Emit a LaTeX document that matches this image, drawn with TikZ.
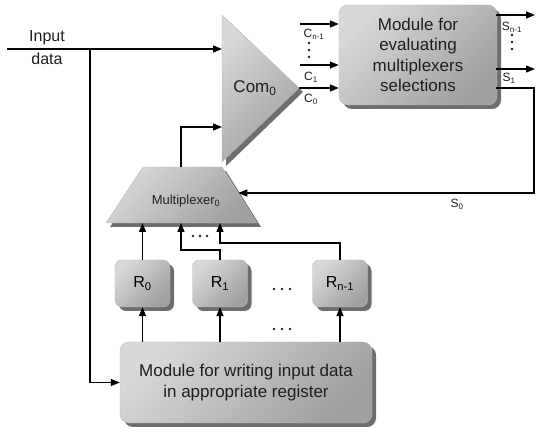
\documentclass[tikz,border=0pt]{standalone}
\usepackage{fontspec}
\setmainfont{Liberation Sans}
\usetikzlibrary{arrows.meta,shadows}
\definecolor{shlight}{HTML}{D8D8D8}
\definecolor{shdark}{HTML}{A0A0A0}
\definecolor{shadowc}{HTML}{6E6E6E}
\definecolor{txt}{HTML}{1E1E1E}
\tikzset{
  arr/.style={line width=1.3pt, -{Triangle[length=9pt,width=7pt]}},
  ln/.style={line width=1.3pt},
  shd/.style={top color=shlight, bottom color=shdark, shading angle=45},
  blk/.style={shd, rounded corners=9pt, draw=gray!55, line width=0.4pt, inner sep=0pt,
    drop shadow={shadow xshift=4pt, shadow yshift=-4pt, fill=shadowc, opacity=1}},
  reg/.style={blk, rounded corners=7pt, minimum width=55pt, minimum height=47pt,
    font=\fontsize{16}{18}\selectfont},
  bigtxt/.style={align=center, font=\fontsize{17}{20.5}\selectfont, text=txt},
  lbl/.style={font=\fontsize{12}{14}\selectfont, text=txt, inner sep=0pt},
  dot/.style={fill=txt, draw=none},
}
\begin{document}
\begin{tikzpicture}[x=1pt,y=-1pt]
\useasboundingbox (0,0) rectangle (536,427);
% ---- Com0 triangle
\coordinate (comTL) at (222,15);
\coordinate (comTip) at (299,88);
\coordinate (comBL) at (222,162);
\fill[shadowc] (226,19) -- (303,92) -- (226,166) -- cycle;
\shade[shd, draw=gray!55, line width=0.4pt] (comTL) -- (comTip) -- (comBL) -- cycle;
\node[bigtxt] (com) at (255,88) {Com\textsubscript{0}};
% ---- Multiplexer trapezoid
\coordinate (muxTL) at (143,167);
\coordinate (muxTR) at (222,167);
\coordinate (muxBR) at (257,223);
\coordinate (muxBL) at (106,223);
\coordinate (muxT) at (181,167);
\coordinate (muxR) at (238.3,193);
\fill[shadowc] (147,171) -- (226,171) -- (261,227) -- (110,227) -- cycle;
\shade[shd, draw=gray!55, line width=0.4pt] (muxTL) -- (muxTR) -- (muxBR) -- (muxBL) -- cycle;
\node[font=\fontsize{13}{15}\selectfont, text=txt] (muxlbl) at (186,201) {Multiplexer\textsubscript{0}};
% ---- Evaluation module
\node[blk, bigtxt, minimum width=158pt, minimum height=100pt] (ev) at (418,55)
  {Module for\\evaluating\\multiplexers\\selections};
% ---- Registers
\node[reg] (r0) at (142.5,283.5) {R\textsubscript{0}};
\node[reg] (r1) at (220,283.5) {R\textsubscript{1}};
\node[reg] (rn) at (340,283.5) {R\textsubscript{n-1}};
% ---- Writing module
\node[blk, bigtxt, minimum width=252pt, minimum height=81pt] (wm) at (246,382.5)
  {Module for writing input data\\in appropriate register};
% ---- Input
\coordinate (inS) at (7,49);
\coordinate (br) at (90,49);
\draw[arr] (inS) -- (inS -| comTL);
\node[bigtxt, font=\fontsize{16}{18}\selectfont] (inl1) at (47,38) {Input};
\node[bigtxt, font=\fontsize{16}{18}\selectfont] (inl2) at (47,59) {data};
\draw[arr] (br) |- (wm.west);
% ---- Mux to Com
\coordinate (mc) at (181,127);
\draw[arr] (muxT) -- (mc) -- (mc -| comTL);
% ---- C inputs
\coordinate (cn) at (300,24);
\coordinate (c1) at (300,65);
\draw[arr] (cn) -- (cn -| ev.west);
\draw[arr] (c1) -- (c1 -| ev.west);
\draw[arr] (comTip) -- (comTip -| ev.west);
\node[lbl] (lcn) at (314,34) {C\textsubscript{n-1}};
\node[lbl] (lc1) at (311,77) {C\textsubscript{1}};
\node[lbl] (lc0) at (311,99) {C\textsubscript{0}};
\foreach \yy in {43,50,57} \fill[dot] (309,\yy) circle (1.3);
% ---- S outputs
\coordinate (sn) at (496,15);
\coordinate (s1) at (496,69);
\coordinate (s0) at (496,88);
\coordinate (sc1) at (534,88);
\coordinate (sc2) at (534,193);
\draw[arr] (sn) -- (535,15);
\draw[arr] (s1) -- (535,69);
\draw[arr] (s0) -- (sc1) -- (sc2) -- (muxR);
\node[lbl] (lsn) at (512,27) {S\textsubscript{n-1}};
\node[lbl] (ls1) at (509,78) {S\textsubscript{1}};
\node[lbl] (ls0) at (457,204) {S\textsubscript{0}};
\foreach \yy in {35,42,49} \fill[dot] (512,\yy) circle (1.3);
% ---- Registers to mux
\draw[arr] (r0.north) -- (r0.north |- muxBL);
\coordinate (k1) at (181,250);
\draw[arr] (r1.north) |- (k1) -- (k1 |- muxBL);
\coordinate (k2) at (220,243);
\draw[arr] (rn.north) |- (k2) -- (k2 |- muxBL);
\foreach \xx in {193,200,207} \fill[dot] (\xx,236) circle (1.3);
% ---- Writing module to registers
\draw[arr] (wm.north -| r0) -- (r0.south);
\draw[arr] (wm.north -| r1) -- (r1.south);
\draw[arr] (wm.north -| rn) -- (rn.south);
\foreach \xx in {274,282,290} {
  \fill[dot] (\xx,289) circle (1.3);
  \fill[dot] (\xx,329) circle (1.3);
}
\end{tikzpicture}
\end{document}
